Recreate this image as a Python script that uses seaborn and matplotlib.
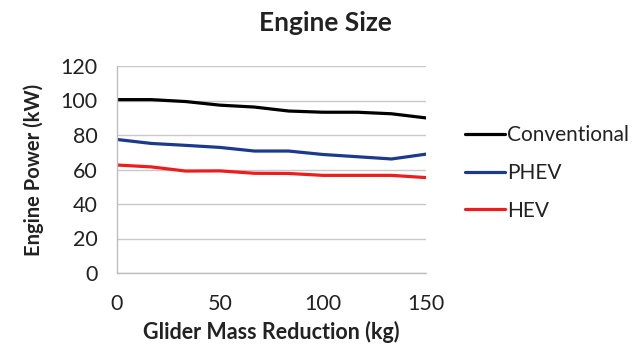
import numpy as np
import pandas as pd
import matplotlib
matplotlib.use("Agg")
import matplotlib.pyplot as plt
import seaborn as sns

# Glider mass reduction steps (kg)
mass_reduction = [0, 16.7, 33.3, 50, 66.7, 83.3, 100, 116.7, 133.3, 150]

# Engine power (kW) for each powertrain
conventional = [100.5, 100.5, 99.4, 97.3, 96.2, 93.9, 93.2, 93.2, 92.3, 89.9]
phev = [77.4, 75.1, 74.0, 72.8, 70.7, 70.7, 68.7, 67.4, 66.1, 68.9]
hev = [62.6, 61.5, 59.1, 59.2, 57.8, 57.7, 56.6, 56.6, 56.6, 55.3]

series_names = ["Conventional", "PHEV", "HEV"]
series_colors = ["#000000", "#1c3a8c", "#ee1c1c"]

df = pd.DataFrame({
    "Glider Mass Reduction (kg)": mass_reduction * 3,
    "Engine Power (kW)": conventional + phev + hev,
    "Series": [n for n in series_names for _ in mass_reduction],
})

sns.set_theme(style="white")
plt.rcParams["font.family"] = ["Lato", "DejaVu Sans"]

fig = plt.figure(figsize=(6.33, 3.45), dpi=100)
ax = fig.add_axes([117 / 633, 1 - 273 / 345, (426 - 117) / 633, (273 - 66) / 345])

sns.lineplot(
    data=df, x="Glider Mass Reduction (kg)", y="Engine Power (kW)",
    hue="Series", hue_order=series_names, palette=series_colors,
    linewidth=2.3, ax=ax, legend=True,
)

ax.set_xlim(0, 150)
ax.set_ylim(0, 120)
ax.set_xticks([0, 50, 100, 150])
ax.set_yticks(range(0, 121, 20))
ax.grid(axis="y", color="#c8c8c8", linewidth=1)
ax.set_axisbelow(True)
for side in ["top", "right"]:
    ax.spines[side].set_visible(False)
for side in ["left", "bottom"]:
    ax.spines[side].set_color("#bdbdbd")
    ax.spines[side].set_linewidth(1)
ax.tick_params(axis="both", which="major", direction="out", length=5,
               color="#bdbdbd", width=1, labelsize=15.5, labelcolor="#222222")
ax.tick_params(axis="x", pad=10)
ax.tick_params(axis="y", pad=9)

ax.set_xlabel("Glider Mass Reduction (kg)", fontsize=15.5, fontweight="bold",
              color="#222222", labelpad=5)
ax.set_ylabel("Engine Power (kW)", fontsize=14.5, fontweight="bold",
              color="#222222", labelpad=12)

fig.text(325 / 633, 1 - 23 / 345, "Engine Size", ha="center", va="center",
         fontsize=19, fontweight="bold", color="#222222")

leg = ax.legend(
    loc="center left", bbox_to_anchor=((465 - 117) / 309, (273 - 173) / 207),
    frameon=False, fontsize=15, handlelength=1.9, handletextpad=0.1,
    labelspacing=0.85, borderaxespad=0, borderpad=0,
)
for line in leg.get_lines():
    line.set_linewidth(2.3)
for t in leg.get_texts():
    t.set_color("#222222")

fig.savefig("out.png", dpi=100)
